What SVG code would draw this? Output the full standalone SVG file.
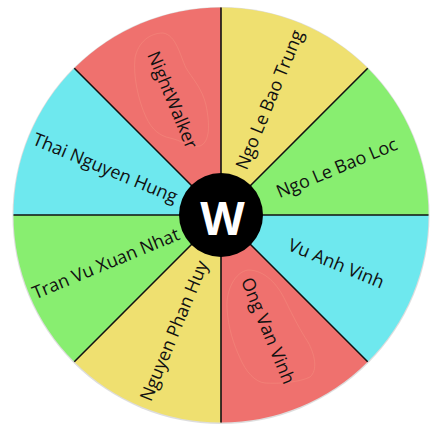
<svg xmlns="http://www.w3.org/2000/svg" width="439" height="434" viewBox="0 0 439 434">
<style>
.lbl{font-family:"Open Sans","Noto Sans","Liberation Sans",sans-serif;font-size:18px;fill:#111;text-anchor:middle;dominant-baseline:central}
.red{fill:#EF716E}.yel{fill:#EFE070}.grn{fill:#88EE70}.cyn{fill:#6EE8EE}
.div{stroke:#111;stroke-width:1.6}
.blob{fill:none;stroke:#F59A86;stroke-width:1;opacity:0.35}
</style>
<rect width="439" height="434" fill="#fff"/>
<circle cx="221" cy="215.5" r="208.5" fill="#bbb" opacity="0.5"/>
<g id="seg-ngo-le-bao-trung">
<path class="yel" d="M221,215 L221,7.5 A207.5,207.5 0 0 1 367.7,68.3 Z"/>
<text class="lbl" transform="translate(268.8,99.5) rotate(-67.5)">Ngo Le Bao Trung</text>
</g>
<g id="seg-ngo-le-bao-loc">
<path class="grn" d="M221,215 L367.7,68.3 A207.5,207.5 0 0 1 428.5,215 Z"/>
<text class="lbl" transform="translate(336.5,167.2) rotate(-22.5)">Ngo Le Bao Loc</text>
</g>
<g id="seg-vu-anh-vinh">
<path class="cyn" d="M221,215 L428.5,215 A207.5,207.5 0 0 1 367.7,361.7 Z"/>
<text class="lbl" transform="translate(336.5,262.8) rotate(22.5)">Vu Anh Vinh</text>
</g>
<g id="seg-ong-van-vinh">
<path class="red" d="M221,215 L367.7,361.7 A207.5,207.5 0 0 1 221,422.5 Z"/>
<path class="blob" d="M248,270 C235,272 226,290 227,308 C228,328 234,345 240,358 C246,372 255,382 265,383 C280,384 300,382 310,377 C318,370 315,355 308,342 C300,330 294,318 285,300 C278,285 265,270 248,270 Z"/>
<text class="lbl" transform="translate(268.8,330.5) rotate(67.5)">Ong Van Vinh</text>
</g>
<g id="seg-nguyen-phan-huy">
<path class="yel" d="M221,215 L221,422.5 A207.5,207.5 0 0 1 74.3,361.7 Z"/>
<text class="lbl" transform="translate(173.2,330.5) rotate(-67.5)">Nguyen Phan Huy</text>
</g>
<g id="seg-tran-vu-xuan-nhat">
<path class="grn" d="M221,215 L74.3,361.7 A207.5,207.5 0 0 1 13.5,215 Z"/>
<text class="lbl" transform="translate(105.5,262.8) rotate(-22.5)">Tran Vu Xuan Nhat</text>
</g>
<g id="seg-thai-nguyen-hung">
<path class="cyn" d="M221,215 L13.5,215 A207.5,207.5 0 0 1 74.3,68.3 Z"/>
<text class="lbl" transform="translate(105.5,167.2) rotate(22.5)">Thai Nguyen Hung</text>
</g>
<g id="seg-nightwalker">
<path class="red" d="M221,215 L74.3,68.3 A207.5,207.5 0 0 1 221,7.5 Z"/>
<path class="blob" d="M163,33 C150,33 138,42 135,58 C133,75 138,100 146,117 C152,130 160,136 170,138 C180,140 192,148 200,146 C210,142 210,125 206,105 C202,88 192,78 186,68 C180,55 176,35 163,33 Z"/>
<text class="lbl" transform="translate(173.2,99.5) rotate(67.5)">NightWalker</text>
</g>
<g id="connectors">
<line class="div" x1="221" y1="215" x2="221" y2="7.5"/>
<line class="div" x1="221" y1="215" x2="367.7" y2="68.3"/>
<line class="div" x1="221" y1="215" x2="428.5" y2="215"/>
<line class="div" x1="221" y1="215" x2="367.7" y2="361.7"/>
<line class="div" x1="221" y1="215" x2="221" y2="422.5"/>
<line class="div" x1="221" y1="215" x2="74.3" y2="361.7"/>
<line class="div" x1="221" y1="215" x2="13.5" y2="215"/>
<line class="div" x1="221" y1="215" x2="74.3" y2="68.3"/>
</g>
<g id="hub">
<circle cx="221" cy="215" r="42" fill="#000"/>
<text x="222.5" y="216.5" font-family="'Open Sans','Liberation Sans',sans-serif" font-weight="bold" font-size="46" fill="#fff" text-anchor="middle" dominant-baseline="central">W</text>
</g>
</svg>
